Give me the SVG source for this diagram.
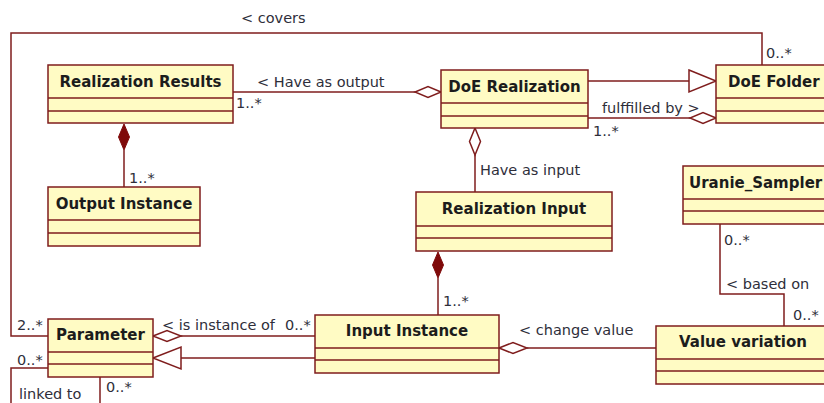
<svg xmlns="http://www.w3.org/2000/svg" width="824" height="403" viewBox="0 0 824 403">
<style>
.box{fill:#FFFBC4;stroke:#7F1D1D;stroke-width:1.5}
.div{stroke:#7F1D1D;stroke-width:1.5;fill:none}
.hd{font-family:"DejaVu Sans",Verdana,sans-serif;font-weight:bold;font-size:15px;fill:#1c1c1c}
.ln{fill:none;stroke:#7F1D1D;stroke-width:1.5}
.agg{fill:#fff;stroke:#7F1D1D;stroke-width:1.5}
.comp{fill:#7F0A0A;stroke:#7F0A0A;stroke-width:1}
.gen{fill:#fff;stroke:#7F1D1D;stroke-width:1.5}
.lb{font-family:"DejaVu Sans",Verdana,sans-serif;font-size:14.5px;fill:#2e2e3a}
</style>
<rect width="824" height="403" fill="#fff"/>
<g id="connectors">
<path class="ln" d="M48,336 H11 V33 H762 V65"/>
<path class="ln" d="M48,368 H11 V403"/>
<path class="ln" d="M100,377 V403"/>
<path class="ln" d="M233,92 H415"/>
<polygon class="agg" points="441,92 428,86.5 415,92 428,97.5"/>
<path class="ln" d="M588,81 H689"/>
<polygon class="gen" points="689,70 716,81 689,92"/>
<path class="ln" d="M588,118 H690"/>
<polygon class="agg" points="716,118 703,112.5 690,118 703,123.5"/>
<path class="ln" d="M124,150 V187"/>
<polygon class="comp" points="124,124 129.5,137 124,150 118.5,137"/>
<path class="ln" d="M475,155 V192"/>
<polygon class="agg" points="475,128 480.5,141.5 475,155 469.5,141.5"/>
<path class="ln" d="M438,278 V315"/>
<polygon class="comp" points="438,252 443.5,265 438,278 432.5,265"/>
<path class="ln" d="M720,224 V294 H784 V326"/>
<path class="ln" d="M527,348 H656"/>
<polygon class="agg" points="499,348 513,342.5 527,348 513,353.5"/>
<path class="ln" d="M181,336 H315"/>
<polygon class="agg" points="153,336 167,330.5 181,336 167,341.5"/>
<path class="ln" d="M181,358 H315"/>
<polygon class="gen" points="153,358 181,347 181,369"/>
<text class="lb" x="241" y="23">&lt; covers</text>
<text class="lb" x="766" y="58">0..*</text>
<text class="lb" x="257" y="87">&lt; Have as output</text>
<text class="lb" x="236" y="108">1..*</text>
<text class="lb" x="602" y="113">fulffilled by &gt;</text>
<text class="lb" x="593" y="136">1..*</text>
<text class="lb" x="129" y="183">1..*</text>
<text class="lb" x="480" y="175">Have as input</text>
<text class="lb" x="724" y="245">0..*</text>
<text class="lb" x="726" y="289">&lt; based on</text>
<text class="lb" x="793" y="320">0..*</text>
<text class="lb" x="443" y="306">1..*</text>
<text class="lb" x="519" y="335">&lt; change value</text>
<text class="lb" x="17" y="330">2..*</text>
<text class="lb" x="162" y="330">&lt; is instance of</text>
<text class="lb" x="285" y="330">0..*</text>
<text class="lb" x="17" y="365">0..*</text>
<text class="lb" x="19" y="399">linked to</text>
<text class="lb" x="106" y="392">0..*</text>
</g>
<g id="realization-results">
<rect class="box" x="48" y="65" width="185" height="58"/>
<path class="div" d="M48,98 H233 M48,111 H233"/>
<text class="hd" x="140.5" y="87" text-anchor="middle">Realization Results</text>
</g>
<g id="doe-realization">
<rect class="box" x="441" y="70" width="147" height="58"/>
<path class="div" d="M441,103 H588 M441,116 H588"/>
<text class="hd" x="514.5" y="92" text-anchor="middle">DoE Realization</text>
</g>
<g id="doe-folder">
<rect class="box" x="716" y="65" width="120" height="58"/>
<path class="div" d="M716,98 H836 M716,111 H836"/>
<text class="hd" x="728" y="87">DoE Folder</text>
</g>
<g id="output-instance">
<rect class="box" x="48" y="187" width="152" height="59"/>
<path class="div" d="M48,220 H200 M48,233 H200"/>
<text class="hd" x="124" y="209" text-anchor="middle">Output Instance</text>
</g>
<g id="realization-input">
<rect class="box" x="416" y="192" width="196" height="59"/>
<path class="div" d="M416,226 H612 M416,238 H612"/>
<text class="hd" x="514" y="214" text-anchor="middle">Realization Input</text>
</g>
<g id="uranie-sampler">
<rect class="box" x="683" y="166" width="160" height="58"/>
<path class="div" d="M683,199 H843 M683,211 H843"/>
<text class="hd" x="689" y="188">Uranie_Sampler</text>
</g>
<g id="input-instance">
<rect class="box" x="315" y="315" width="184" height="58"/>
<path class="div" d="M315,348 H499 M315,360 H499"/>
<text class="hd" x="407" y="336" text-anchor="middle">Input Instance</text>
</g>
<g id="value-variation">
<rect class="box" x="656" y="326" width="180" height="58"/>
<path class="div" d="M656,359 H836 M656,371 H836"/>
<text class="hd" x="679" y="347">Value variation</text>
</g>
<g id="parameter">
<rect class="box" x="48" y="319" width="105" height="58"/>
<path class="div" d="M48,352 H153 M48,364 H153"/>
<text class="hd" x="100.5" y="340" text-anchor="middle">Parameter</text>
</g>
</svg>
